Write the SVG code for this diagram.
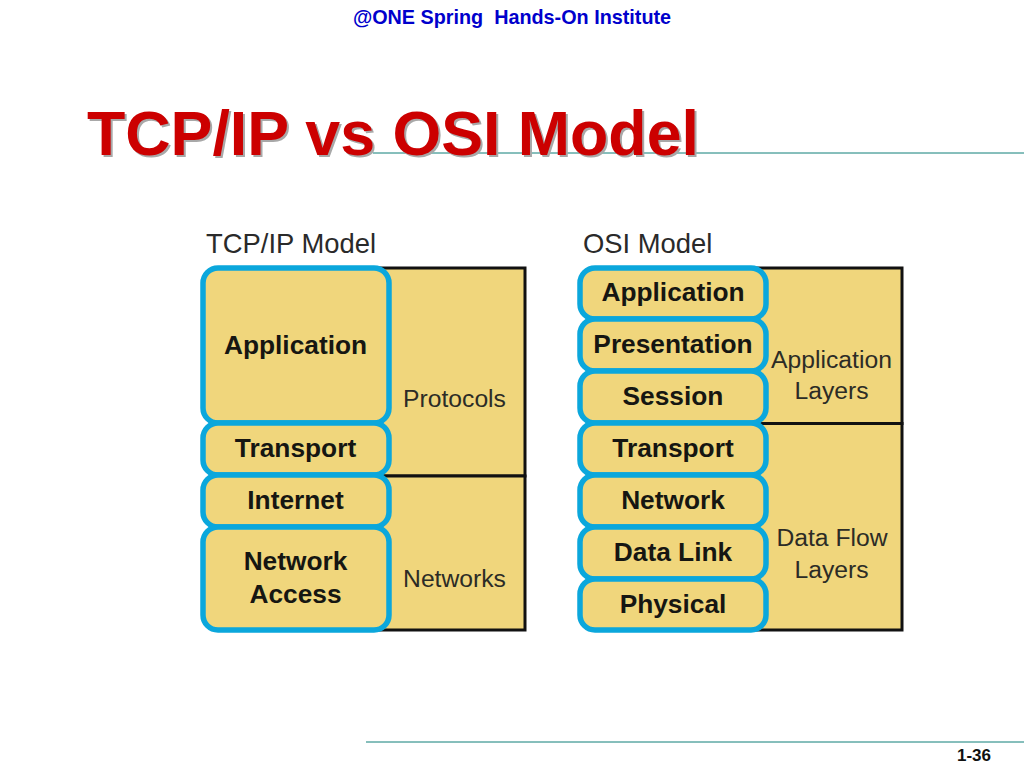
<svg xmlns="http://www.w3.org/2000/svg" width="1024" height="768" viewBox="0 0 1024 768">
<style>
text{font-family:"Liberation Sans",Arial,sans-serif}
.bg{fill:#f0d67c;stroke:#111;stroke-width:3}
.ly{fill:#f0d67c;stroke:#0ba7dc;stroke-width:5.500}
.b{font-size:26.3px;font-weight:bold;fill:#161612;text-anchor:middle}
.r{font-size:24.7px;fill:#2c2c26;text-anchor:middle}
.h{font-size:27.4px;fill:#2a2a2a}
.t{font-size:62.7px;font-weight:bold;fill:#cc0000}
.s{font-size:62.7px;font-weight:bold;fill:#a8a8a8}
.rule{stroke:#0f7f78;stroke-width:1}
</style>
<rect width="1024" height="768" fill="#fff"/>
<text x="512" y="24" text-anchor="middle" font-size="19.800" font-weight="bold" fill="#0000cc" xml:space="preserve">@ONE Spring  Hands-On Institute</text>
<line class="rule" x1="373" y1="153" x2="1024" y2="153"/>
<text class="s" x="89" y="157">TCP/IP vs OSI Model</text>
<text class="t" x="87" y="155">TCP/IP vs OSI Model</text>
<text class="h" x="206" y="253">TCP/IP Model</text>
<text class="h" x="583" y="253">OSI Model</text>
<g id="tcpip-side">
<rect class="bg" x="300" y="268" width="225" height="208"/>
<rect class="bg" x="300" y="476" width="225" height="154"/>
<text class="r" x="454.500" y="407">Protocols</text>
<text class="r" x="454.500" y="587">Networks</text>
</g>
<g id="tcp-application"><rect class="ly" x="203" y="268" width="186" height="155" rx="15"/><text class="b" x="295.500" y="354">Application</text></g>
<g id="tcp-transport"><rect class="ly" x="203" y="423" width="186" height="52" rx="15"/><text class="b" x="295.500" y="457">Transport</text></g>
<g id="tcp-internet"><rect class="ly" x="203" y="475" width="186" height="52" rx="15"/><text class="b" x="295.500" y="509">Internet</text></g>
<g id="tcp-access"><rect class="ly" x="203" y="527" width="186" height="103" rx="15"/><text class="b" x="295.500" y="570">Network</text><text class="b" x="295.500" y="603">Access</text></g>
<g id="osi-side">
<rect class="bg" x="680" y="268" width="222" height="155.500"/>
<rect class="bg" x="680" y="423.500" width="222" height="206.500"/>
<text class="r" x="831.500" y="368">Application</text>
<text class="r" x="831.500" y="399">Layers</text>
<text class="r" x="832" y="546">Data Flow</text>
<text class="r" x="831.500" y="578">Layers</text>
</g>
<g id="osi-application"><rect class="ly" x="580" y="268" width="186" height="51" rx="15"/><text class="b" x="673" y="301">Application</text></g>
<g id="osi-presentation"><rect class="ly" x="580" y="319" width="186" height="52" rx="15"/><text class="b" x="673" y="353">Presentation</text></g>
<g id="osi-session"><rect class="ly" x="580" y="371" width="186" height="52" rx="15"/><text class="b" x="673" y="405">Session</text></g>
<g id="osi-transport"><rect class="ly" x="580" y="423" width="186" height="52" rx="15"/><text class="b" x="673" y="457">Transport</text></g>
<g id="osi-network"><rect class="ly" x="580" y="475" width="186" height="52" rx="15"/><text class="b" x="673" y="509">Network</text></g>
<g id="osi-datalink"><rect class="ly" x="580" y="527" width="186" height="52" rx="15"/><text class="b" x="673" y="561">Data Link</text></g>
<g id="osi-physical"><rect class="ly" x="580" y="579" width="186" height="51" rx="15"/><text class="b" x="673" y="613">Physical</text></g>
<line class="rule" x1="366" y1="742" x2="1024" y2="742"/>
<text x="991" y="761" text-anchor="end" font-size="17" font-weight="bold" fill="#111">1-36</text>
</svg>
